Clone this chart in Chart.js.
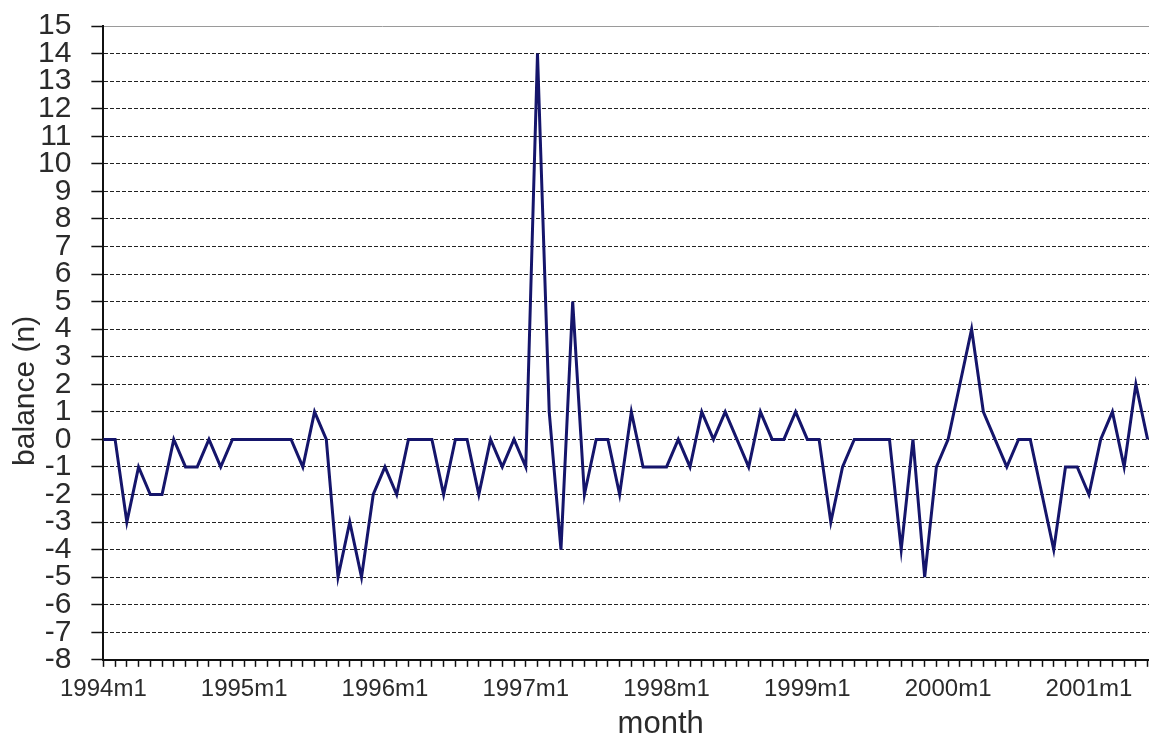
<!DOCTYPE html>
<html>
<head>
<meta charset="utf-8">
<script src="https://cdn.jsdelivr.net/npm/chart.js@4"></script>
<style>
  html, body { margin: 0; padding: 0; background: #fff; overflow: hidden; }
  #wrap { width: 1226px; height: 738px; }
</style>
</head>
<body>
<div id="wrap"><canvas id="balanceChart"></canvas></div>
<script>
// year tick labels, one per January
const yearLabels = ["1994m1", "1995m1", "1996m1", "1997m1", "1998m1", "1999m1", "2000m1", "2001m1"];

// monthly balance, 1994m1 .. 2001m6
const balance = [
  0, 0, -3, -1, -2, -2, 0, -1, -1, 0, -1, 0,      // 1994
  0, 0, 0, 0, 0, -1, 1, 0, -5, -3, -5, -2,        // 1995
  -1, -2, 0, 0, 0, -2, 0, 0, -2, 0, -1, 0,        // 1996
  -1, 14, 1, -4, 5, -2, 0, 0, -2, 1, -1, -1,      // 1997
  -1, 0, -1, 1, 0, 1, 0, -1, 1, 0, 0, 1,          // 1998
  0, 0, -3, -1, 0, 0, 0, 0, -4, 0, -5, -1,        // 1999
  0, 2, 4, 1, 0, -1, 0, 0, -2, -4, -1, -1,        // 2000
  -2, 0, 1, -1, 2, 0                              // 2001
];

const yTitle = "balance (n)";
const xTitle = "month";

// every month of each year in yearLabels
let months = [];
yearLabels.forEach((yl) => {
  const yr = yl.slice(0, 4);
  for (let m = 1; m <= 12; m++) months.push(yr + "m" + m);
});

const textColor = "#2b2b2b";

const yTitlePlugin = {
  id: "yTitle",
  afterDraw(chart) {
    const ctx = chart.ctx;
    ctx.save();
    ctx.translate(26, chart.chartArea.bottom - 269);
    ctx.rotate(-Math.PI / 2);
    ctx.font = '30px "Liberation Sans", Arial, sans-serif';
    ctx.fillStyle = textColor;
    ctx.textAlign = "center";
    ctx.textBaseline = "middle";
    ctx.fillText(yTitle, 0, 0);
    ctx.restore();
  },
};

let ctx = document.getElementById("balanceChart").getContext("2d");
new Chart(ctx, {
  type: "line",
  data: {
    labels: months,
    datasets: [
      {
        label: "balance",
        data: balance,
        borderColor: "#15156b",
        borderWidth: 3,
        pointRadius: 0,
        tension: 0,
        fill: false,
      },
    ],
  },
  options: {
    responsive: true,
    maintainAspectRatio: false,
    animation: false,
    layout: { padding: { left: 18, right: 4, top: 26, bottom: 0 } },
    plugins: {
      legend: { display: false },
      tooltip: { enabled: false },
    },
    scales: {
      x: {
        ticks: {
          autoSkip: false,
          maxRotation: 0,
          padding: 8,
          color: textColor,
          font: { family: '"Liberation Sans", Arial', size: 24 },
          callback: function (value) {
            const lab = this.getLabelForValue(value);
            return lab.endsWith("m1") ? lab : "";
          },
        },
        grid: {
          drawOnChartArea: false,
          drawTicks: true,
          tickLength: 7,
          tickColor: "#111",
          tickWidth: 1.5,
        },
        border: { color: "#111", width: 2 },
        title: {
          display: true,
          text: xTitle,
          color: textColor,
          font: { family: '"Liberation Sans", Arial', size: 31, lineHeight: 0.85 },
          padding: { top: 0, bottom: 0 },
        },
      },
      y: {
        min: -8,
        max: 15,
        ticks: {
          stepSize: 1,
          autoSkip: false,
          padding: 20,
          color: textColor,
          font: { family: '"Liberation Sans", Arial', size: 30, lineHeight: 0.4 },
        },
        grid: {
          color: (c) => (c.tick && c.tick.value === 15 ? "#9a9a9a" : "#222"),
          lineWidth: 1,
          tickLength: 12,
          tickColor: "#111",
          tickWidth: 1.5,
        },
        border: {
          color: "#111",
          width: 2,
          dash: (c) => (c.tick && c.tick.value === 15 ? [] : [4, 2]),
        },
      },
    },
  },
  plugins: [yTitlePlugin],
});
</script>
</body>
</html>
